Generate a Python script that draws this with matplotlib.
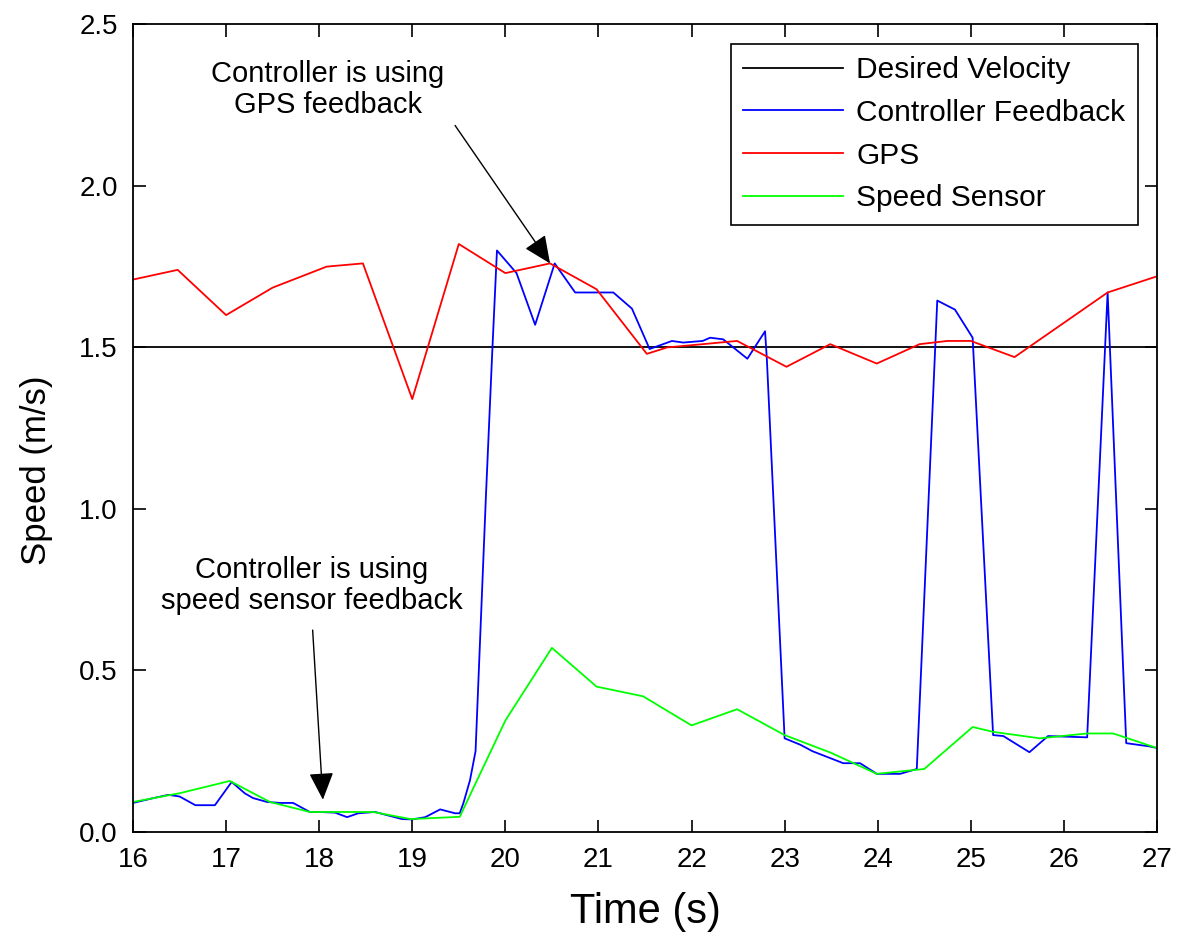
import numpy as np
import matplotlib
matplotlib.use('Agg')
import matplotlib.pyplot as plt

plt.rcParams['font.family'] = ['Liberation Sans', 'DejaVu Sans']

# desired velocity
desired_t = [16.0, 27.0]
desired_v = [1.5, 1.5]

# controller feedback (blue)
ctrl_t = [16.0, 16.22, 16.38, 16.5, 16.67, 16.88, 16.96, 17.06, 17.2, 17.29,
          17.44, 17.58, 17.72, 17.9, 18.0, 18.17, 18.3, 18.42, 18.6, 18.89,
          19.0, 19.14, 19.3, 19.46, 19.51, 19.55, 19.62, 19.68, 19.79, 19.86,
          19.91, 20.12, 20.32, 20.53, 20.75, 21.16, 21.36, 21.55, 21.79, 21.91,
          22.12, 22.2, 22.34, 22.6, 22.79, 22.81, 23.0, 23.17, 23.3, 23.63,
          23.81, 23.99, 24.24, 24.42, 24.64, 24.83, 25.02, 25.24, 25.35, 25.63,
          25.83, 26.25, 26.47, 26.67, 26.92, 27.0]
ctrl_v = [0.09, 0.105, 0.115, 0.11, 0.083, 0.083, 0.115, 0.155, 0.12, 0.105,
          0.093, 0.09, 0.09, 0.062, 0.062, 0.06, 0.046, 0.058, 0.062, 0.04,
          0.039, 0.046, 0.07, 0.058, 0.058, 0.09, 0.16, 0.25, 1.03, 1.49,
          1.80, 1.73, 1.57, 1.76, 1.67, 1.67, 1.62, 1.495, 1.52, 1.515,
          1.52, 1.53, 1.525, 1.465, 1.55, 1.46, 0.29, 0.27, 0.25, 0.213,
          0.213, 0.18, 0.18, 0.195, 1.645, 1.617, 1.53, 0.30, 0.297, 0.247,
          0.297, 0.293, 1.67, 0.275, 0.265, 0.26]

# GPS (red)
gps_t = [16.0, 16.48, 17.0, 17.5, 18.08, 18.47, 19.0, 19.5, 20.0, 20.48,
         20.98, 21.52, 21.74, 22.12, 22.49, 23.02, 23.49, 23.99, 24.45, 24.75,
         25.0, 25.47, 26.47, 27.0]
gps_v = [1.71, 1.74, 1.60, 1.685, 1.75, 1.76, 1.34, 1.82, 1.73, 1.76,
         1.68, 1.48, 1.50, 1.51, 1.52, 1.44, 1.51, 1.45, 1.51, 1.52,
         1.52, 1.47, 1.67, 1.72]

# speed sensor (green)
sensor_t = [16.0, 16.5, 17.04, 17.47, 17.9, 18.58, 18.98, 19.51, 20.0, 20.5,
            20.98, 21.48, 22.0, 22.49, 23.0, 23.5, 23.99, 24.5, 25.02, 25.24,
            25.74, 26.25, 26.53, 27.0]
sensor_v = [0.093, 0.12, 0.158, 0.093, 0.062, 0.062, 0.04, 0.047, 0.345, 0.57,
            0.45, 0.42, 0.33, 0.38, 0.30, 0.245, 0.18, 0.195, 0.325, 0.31,
            0.29, 0.305, 0.305, 0.26]

fig = plt.figure(figsize=(11.79, 9.43), dpi=100)
ax = fig.add_axes([0.1128, 0.1177, 0.8685, 0.8565])

ax.plot(desired_t, desired_v, color='k', lw=1.3, label='Desired Velocity')
ax.plot(ctrl_t, ctrl_v, color='#0000ff', lw=1.3, label='Controller Feedback')
ax.plot(gps_t, gps_v, color='#ff0000', lw=1.3, label='GPS')
ax.plot(sensor_t, sensor_v, color='#00ff00', lw=1.3, label='Speed Sensor')

ax.set_xlim(16, 27)
ax.set_ylim(0, 2.5)
ax.set_xticks(np.arange(16, 28, 1))
ax.set_yticks(np.arange(0, 2.51, 0.5))
ax.set_yticklabels(['{:.1f}'.format(v) for v in np.arange(0, 2.51, 0.5)])
ax.tick_params(direction='in', length=9, width=1.2, labelsize=20,
               top=True, right=True, pad=11)
for s in ax.spines.values():
    s.set_linewidth(1.3)

ax.set_xlabel('Time (s)', fontsize=30)
ax.set_ylabel('Speed (m/s)', fontsize=25)
ax.xaxis.set_label_coords(0.5, -0.074)
ax.yaxis.set_label_coords(-0.078, 0.448)

leg = ax.legend(loc='upper right', fontsize=21.5, handlelength=3.35,
                fancybox=False, framealpha=1, edgecolor='k',
                borderaxespad=0.65, handletextpad=0.43, labelspacing=0.49,
                borderpad=0.42)
leg.get_frame().set_linewidth(1.2)

arrow = dict(arrowstyle='-|>,head_length=1.0,head_width=0.45', color='k',
             lw=1.0, mutation_scale=17, shrinkA=0, shrinkB=0)
ax.text(18.09, 2.298, 'Controller is using\nGPS feedback', fontsize=21,
        ha='center', va='center', linespacing=1.1)
ax.annotate('', xy=(20.48, 1.76), xytext=(19.46, 2.187), arrowprops=arrow)
ax.text(17.92, 0.763, 'Controller is using\nspeed sensor feedback', fontsize=21,
        ha='center', va='center', linespacing=1.15)
ax.annotate('', xy=(18.04, 0.10), xytext=(17.93, 0.625), arrowprops=arrow)

plt.savefig('out.png', dpi=100)
